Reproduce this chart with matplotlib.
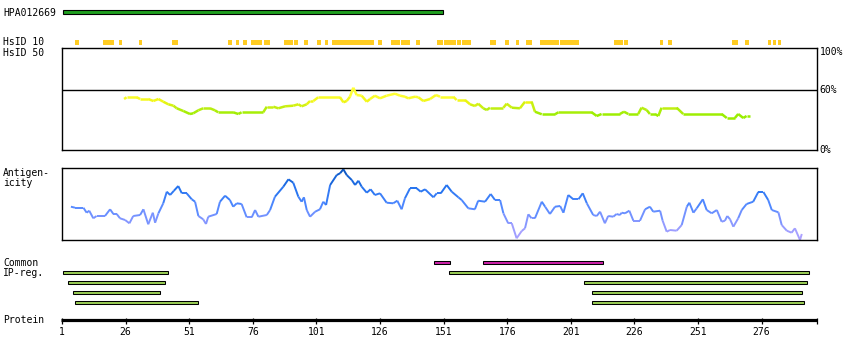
import matplotlib
matplotlib.use("Agg")
import matplotlib.pyplot as plt
import numpy as np
from matplotlib.collections import LineCollection
from matplotlib.colors import LinearSegmentedColormap, Normalize

plt.rcParams['font.family'] = ['DejaVu Sans Mono']

# ---------------- data ----------------
hpa_range = (1.5, 150.6)

hsid10_starts = [6.1, 17.1, 23.4, 31.3, 44.2, 66.3, 69.4, 72.1, 75.3, 80.4, 88.3, 92.2, 96.1,
                 101.2, 104.4, 107.1, 125.2, 130.3, 134.3, 140.2, 148.4, 151.2, 156.3, 158.2,
                 169.2, 175.1, 179.5, 183.3, 188.8, 196.7, 218.0, 221.9, 236.1, 239.4, 264.5,
                 269.3, 278.5, 280.5, 282.4]
hsid10_ends = [7.7, 21.4, 24.6, 32.4, 46.6, 67.8, 70.6, 73.7, 79.6, 82.8, 91.8, 93.8, 97.7,
               102.8, 105.6, 123.6, 126.8, 133.9, 137.8, 141.7, 150.8, 155.9, 157.8, 161.8,
               171.6, 176.7, 180.6, 185.7, 196.3, 204.2, 221.5, 223.5, 237.3, 240.6, 266.9,
               270.9, 279.7, 281.7, 283.6]

sim_pos = [25.4, 26.4, 30.4, 31.7, 34.9, 36.9, 38.9, 40.8, 42.8, 44.8, 46.1, 48.7, 51.3, 52.6,
           54.6, 56.5, 59.2, 61.1, 62.4, 68.3, 70.3, 71.6, 80.1, 81.5, 84.1, 86.0, 88.7, 91.9,
           93.9, 95.2, 97.2, 98.5, 99.8, 101.7, 110.3, 111.6, 112.9, 114.2, 115.5, 116.8, 118.8,
           120.8, 122.1, 124.0, 126.0, 128.6, 131.9, 133.9, 135.8, 137.1, 139.8, 141.1, 143.0,
           145.7, 148.0, 149.6, 154.8, 156.1, 159.4, 161.4, 163.3, 164.6, 166.6, 168.0, 169.2,
           174.5, 175.8, 177.8, 181.0, 183.0, 185.6, 186.9, 189.6, 194.8, 196.1, 209.2, 211.2,
           213.1, 220.3, 221.9, 223.6, 227.5, 228.8, 230.8, 232.1, 234.1, 235.4, 236.7, 242.6,
           245.2, 260.3, 262.3, 265.5, 266.8, 268.8, 270.1, 271.4]
sim_val = [51, 52.7, 52.7, 51, 51, 49, 51, 48.3, 45.7, 44.3, 41.7, 39, 36, 36.7,
           39.7, 41.7, 41.7, 39.7, 37.7, 37.7, 36, 37.7, 37.7, 43.3, 43.3, 41.7, 43.7, 44.3,
           45.7, 43.7, 45.7, 49, 49, 52.7, 52.7, 47.7, 49, 53.3, 62.3, 55, 54.3,
           48.3, 51, 54.3, 51.7, 54.3, 56.3, 54.3, 53.3, 51.7, 53.3, 52.7, 49,
           51, 55, 53.3, 53.3, 50, 50, 45.7, 44, 46.3, 41.7, 40, 42.3,
           42.3, 46.3, 42.3, 41.7, 48.3, 48.3, 38.3, 35.7, 35.7, 37.7, 37.7, 34,
           36, 36, 38.3, 36, 36, 42.3, 40, 36, 36, 34, 42.3, 42.3,
           36, 36, 32, 32, 36, 32, 34, 34]

ant_pos = [4.5, 6.1, 9.4, 10.7, 11.7, 13.3, 14.6, 17.9, 19.9, 21.2, 22.5, 23.8, 25.8, 27.5,
           29.0, 31.7, 33.0, 34.9, 36.7, 37.6, 38.9, 40.8, 42.2, 43.5, 45.0, 46.7, 48.1, 50.0,
           52.0, 53.3, 54.6, 56.5, 57.6, 58.5, 61.8, 63.1, 65.1, 67.0, 68.3, 69.7, 71.6, 73.6,
           75.6, 76.9, 78.2, 81.5, 82.8, 84.7, 88.0, 90.0, 91.9, 93.9, 95.2, 96.1, 97.2, 98.5,
           100.5, 102.4, 103.7, 104.8, 106.4, 109.0, 110.3, 111.6, 112.9, 114.9, 116.2, 117.5,
           118.8, 120.8, 122.3, 124.0, 126.0, 128.6, 131.2, 132.8, 134.5, 135.8, 137.8, 140.4,
           142.0, 143.7, 147.0, 148.3, 149.9, 152.2, 154.2, 156.8, 158.1, 160.7, 163.3, 164.6,
           167.3, 169.5, 171.2, 173.2, 174.5, 176.4, 177.8, 179.7, 181.7, 183.0, 184.3, 185.6,
           186.9, 189.6, 190.9, 192.8, 194.8, 196.8, 198.1, 200.0, 202.0, 204.0, 205.7, 207.3,
           209.8, 211.2, 212.5, 214.4, 215.7, 217.7, 219.0, 220.3, 221.0, 222.3, 224.0, 225.6,
           228.2, 230.2, 232.1, 233.4, 236.1, 237.1, 238.7, 240.0, 242.6, 244.6, 246.6, 247.6,
           249.2, 250.5, 252.9, 254.4, 256.4, 258.4, 260.3, 261.6, 262.5, 263.6, 264.9, 266.8,
           268.2, 270.1, 272.7, 274.7, 276.7, 278.6, 280.0, 282.6, 283.9, 285.9, 287.8, 289.1,
           291.1, 291.8]
ant_val = [33.3, 32.3, 32.3, 27.3, 29.3, 21.7, 24, 24, 30.7, 26, 26, 21.7, 20, 16.7,
           24, 25, 30.7, 15.7, 27.3, 17.3, 26.7, 36.7, 48.3, 45, 49.3, 54, 46.7, 46.7,
           40.7, 38.3, 24, 20.7, 16, 23.3, 26, 38.3, 44.3, 40, 33.3, 36.7, 36, 22.7,
           22.7, 30, 23.3, 25, 30, 43.3, 53.3, 60.7, 57.3, 43.3, 38.3, 42.7, 30, 23.3,
           28.3, 30.7, 38.3, 35, 55, 65, 66.7, 70.7, 65, 60, 55, 59.3,
           53.3, 47.3, 50.7, 45, 46.7, 37.3, 36.7, 39.3, 30.7, 41.7, 51.7, 51.7,
           48.3, 50.7, 42.7, 46.7, 46.7, 55, 48.3, 42.7, 40, 31.7, 30.7, 39.3,
           38.3, 46, 40, 40, 26.7, 16.7, 16.7, 1.7, 9, 11.7, 25.7, 21.7,
           21.7, 38.3, 33.3, 26, 33.3, 34, 27.3, 45, 40.7, 40.7, 46.7, 36.7,
           25, 24, 28.3, 16.7, 24, 23.3, 26, 25, 27.3, 26.7, 29.3, 19.3,
           19.3, 30.7, 33.3, 28.3, 29.3, 19.3, 8.3, 10, 9.3, 15, 33.3, 37.3,
           27.3, 31.7, 40.7, 30, 26.7, 30, 18.3, 19.3, 24, 20.7, 13.3, 21.7,
           30, 36, 38.3, 48, 48, 40, 30, 27.7, 15, 9.3, 7.3, 11.7,
           0, 6]

common_starts = [147.3, 166.6]
common_ends = [153.4, 213.5]

ip_rows = [0, 0, 1, 1, 2, 2, 3, 3]
ip_starts = [1.5, 153.2, 3.5, 206.3, 5.4, 209.5, 6.2, 209.5]
ip_ends = [42.5, 294.5, 41.4, 293.7, 39.4, 291.8, 54.3, 292.5]

tick_values = [1, 26, 51, 76, 101, 126, 151, 176, 201, 226, 251, 276]
tick_labels = [str(v) for v in tick_values]
protein_end = 297.8

# ---------------- layout helpers ----------------
W, H = 850, 360
PX0, PXR = 62.0, 2.544  # pixel of residue 1, pixels per residue


def px2r(px):
    return (px - PX0) / PXR + 1


fig = plt.figure(figsize=(W / 100, H / 100), dpi=100)


def add_ax(x0, y0, x1, y1):
    return fig.add_axes([x0 / W, 1 - y1 / H, (x1 - x0) / W, (y1 - y0) / H])


def ftext(px, py, s, **kw):
    fig.text(px / W, 1 - py / H, s, fontsize=7, va='center', color='black', **kw)


# overlay axes (whole figure): x in residues, y in pixel rows
ax0 = fig.add_axes([0, 0, 1, 1])
ax0.set_xlim(px2r(0), px2r(W))
ax0.set_ylim(H, 0)
ax0.axis('off')

# HPA bar
ax0.barh(12.4, hpa_range[1] - hpa_range[0], left=hpa_range[0], height=4.0,
         color='#1f9f1f', edgecolor='black', linewidth=0.8)

# HsID 10 segments
ax0.barh([42.3] * len(hsid10_starts), np.array(hsid10_ends) - np.array(hsid10_starts),
         left=hsid10_starts, height=4.7, color='#ffcc22', linewidth=0)

# Common regions
ax0.barh([262.3] * len(common_starts), np.array(common_ends) - np.array(common_starts),
         left=common_starts, height=3.4, color='#cc22aa', edgecolor='black', linewidth=0.75)

# IP regions
ip_y = [272.3 + 10 * r for r in ip_rows]
ax0.barh(ip_y, np.array(ip_ends) - np.array(ip_starts), left=ip_starts, height=3.4,
         color='#99cc55', edgecolor='black', linewidth=0.75)

# Protein axis
ax0.hlines(320, px2r(61), protein_end, color='black', linewidth=2.3)
ax0.vlines(tick_values + [protein_end], 318, 324, color='black', linewidth=0.9)
for v, lab in zip(tick_values, tick_labels):
    ax0.text(v, 332, lab, fontsize=7, ha='center', va='center')

# ---------------- similarity panel ----------------
ax1 = add_ax(61.5, 48.3, 817.3, 150.3)
ax1.set_facecolor('none')
ax1.set_xlim(px2r(61.5), px2r(817.3))
ax1.set_ylim(-0.3, 101.7)
ax1.set_xticks([])
ax1.set_yticks([])
for sp in ax1.spines.values():
    sp.set_linewidth(1.0)
ax1.axhline(60, color='black', linewidth=1.0)
sim_cmap = LinearSegmentedColormap.from_list('sim', ['#99ee00', '#bbee11', '#eef511', '#ffff33'])
pts = np.column_stack([sim_pos, sim_val])
segs = np.stack([pts[:-1], pts[1:]], axis=1)
lc = LineCollection(segs, cmap=sim_cmap, norm=Normalize(35, 55), linewidth=1.8,
                    capstyle='butt', joinstyle='miter')
lc.set_array((np.array(sim_val[:-1]) + np.array(sim_val[1:])) / 2)
ax1.add_collection(lc)

# ---------------- antigenicity panel ----------------
ax2 = add_ax(61.5, 168.3, 817.3, 240.3)
ax2.set_facecolor('none')
ax2.set_xlim(px2r(61.5), px2r(817.3))
ax2.set_ylim(-0.3, 71.7)
ax2.set_xticks([])
ax2.set_yticks([])
for sp in ax2.spines.values():
    sp.set_linewidth(1.0)
ant_cmap = LinearSegmentedColormap.from_list(
    'ant', ['#b4a4ff', '#8a98ff', '#4f88ff', '#2272ee', '#0a55c0'])
pts = np.column_stack([ant_pos, ant_val])
segs = np.stack([pts[:-1], pts[1:]], axis=1)
lc2 = LineCollection(segs, cmap=ant_cmap, norm=Normalize(0, 70), linewidth=1.4)
lc2.set_array((np.array(ant_val[:-1]) + np.array(ant_val[1:])) / 2)
ax2.add_collection(lc2)

# ---------------- labels ----------------
ftext(3, 12.7, 'HPA012669')
ftext(3, 42.3, 'HsID 10')
ftext(3, 52.5, 'HsID 50')
ftext(3, 173.3, 'Antigen-')
ftext(3, 183.5, 'icity')
ftext(3, 262.7, 'Common')
ftext(3, 272.7, 'IP-reg.')
ftext(3, 320, 'Protein')
ftext(819.5, 52, '100%')
ftext(819.5, 90, '60%')
ftext(819.5, 150, '0%')

fig.savefig('out.png', dpi=100)
